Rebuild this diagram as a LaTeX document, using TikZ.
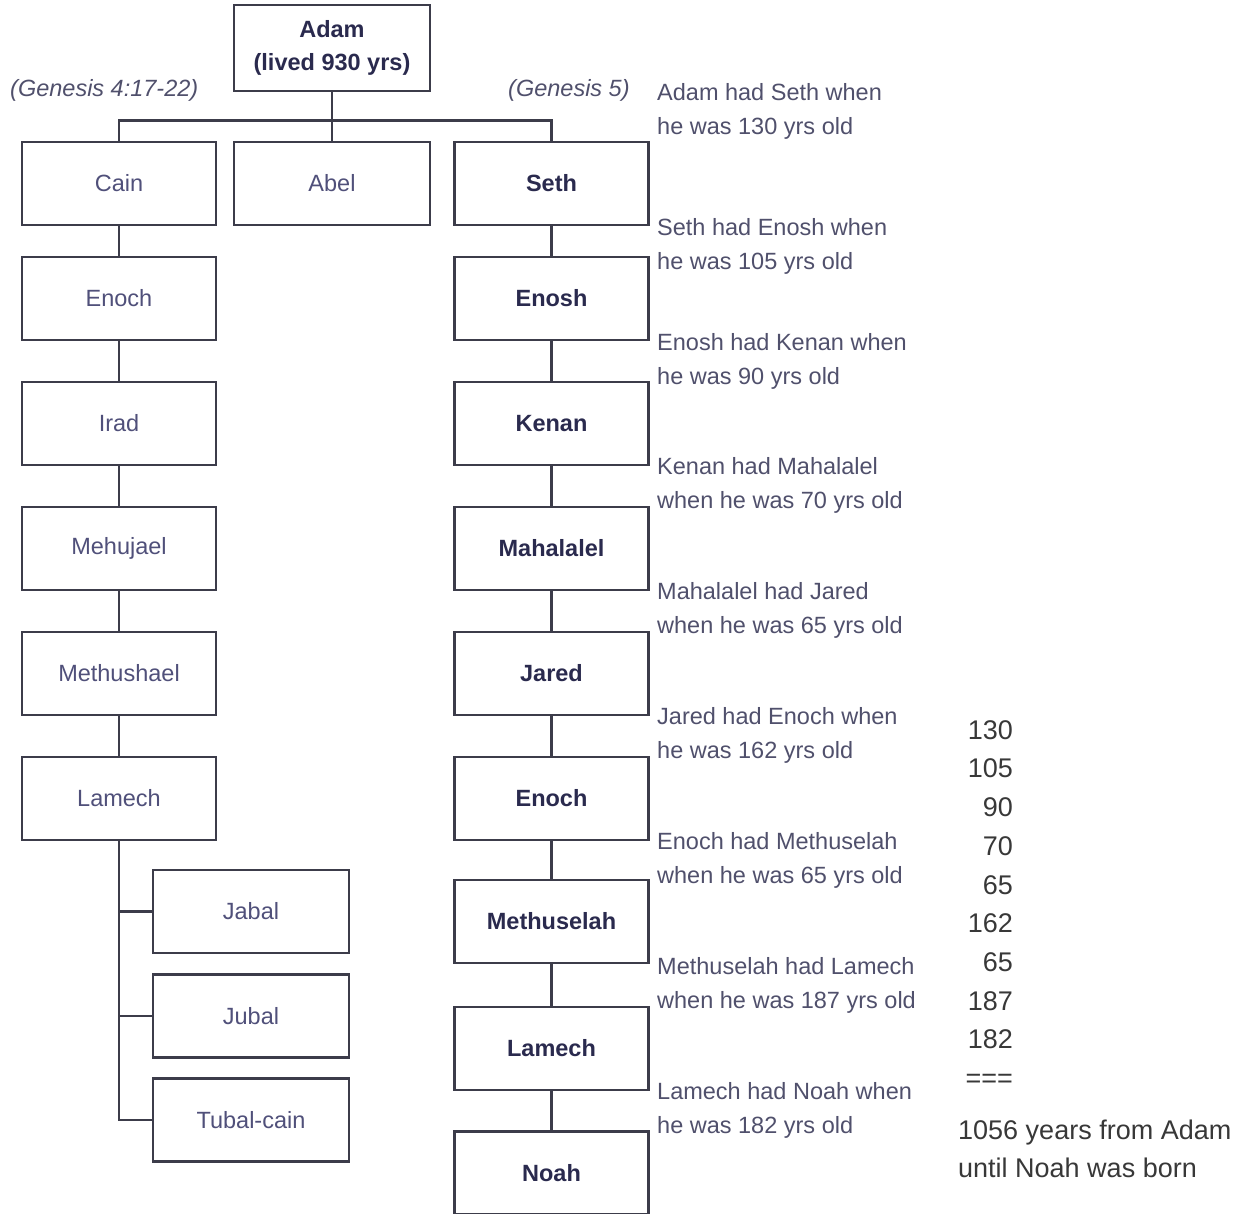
\documentclass[tikz,border=0pt]{standalone}
\usepackage{fontspec}
\setmainfont{Liberation Sans}
\definecolor{linec}{HTML}{3C3C4A}
\definecolor{lighttext}{HTML}{50507A}
\definecolor{darktext}{HTML}{2A2A4E}
\definecolor{sidetext}{HTML}{50506C}
\definecolor{numtext}{HTML}{383838}
\begin{document}
\begin{tikzpicture}[x=1pt,y=-1pt,
  person/.style={draw=linec,line width=2.8pt,fill=white,minimum width=194pt,minimum height=83pt,inner sep=0pt,font=\fontsize{23.5}{28}\selectfont,text=lighttext},
  bperson/.style={person,font=\fontsize{23.5}{28}\selectfont\bfseries,text=darktext},
  conn/.style={draw=linec,line width=2.8pt},
  note/.style={anchor=west,align=left,inner sep=0pt,font=\fontsize{23.5}{34}\selectfont,text=sidetext},
  gen/.style={anchor=west,inner sep=0pt,font=\fontsize{23.5}{28}\selectfont\itshape,text=sidetext}]
\useasboundingbox (0,0) rectangle (1250,1213);
\fill[white] (0,0) rectangle (1250,1213);
% Adam
\node[bperson,minimum width=196pt,minimum height=86pt,align=center] (adam) at (332,48) {Adam\\[5pt](lived 930 yrs)};
% first generation
\node[person] (cain) at (119,183.5) {Cain};
\node[person,minimum width=196pt] (abel) at (332,183.5) {Abel};
\node[bperson] (seth) at (551.5,183.5) {Seth};
% Cain line
\node[person] (lenoch) at (119,298.5) {Enoch};
\node[person] (irad) at (119,423.5) {Irad};
\node[person] (mehujael) at (119,548.5) {Mehujael};
\node[person] (methushael) at (119,673.5) {Methushael};
\node[person] (llamech) at (119,798.5) {Lamech};
\node[person,minimum width=196pt] (jabal) at (251,911.5) {Jabal};
\node[person,minimum width=196pt] (jubal) at (251,1016) {Jubal};
\node[person,minimum width=196pt] (tubal) at (251,1120) {Tubal-cain};
% Seth line
\node[bperson] (enosh) at (551.5,298.5) {Enosh};
\node[bperson] (kenan) at (551.5,423.5) {Kenan};
\node[bperson] (mahalalel) at (551.5,548.5) {Mahalalel};
\node[bperson] (jared) at (551.5,673.5) {Jared};
\node[bperson] (renoch) at (551.5,798.5) {Enoch};
\node[bperson] (methuselah) at (551.5,921.5) {Methuselah};
\node[bperson] (rlamech) at (551.5,1048.5) {Lamech};
\node[bperson] (noah) at (551.5,1173) {Noah};
% connectors
\draw[conn] (adam.south) -- (abel.north);
\draw[conn] (cain.north) -- ++(0,-20) -| (seth.north);
\draw[conn] (cain) -- (lenoch) -- (irad) -- (mehujael) -- (methushael) -- (llamech);
\draw[conn] (llamech.south) |- (tubal.west);
\draw[conn] (llamech.south |- jabal.west) -- (jabal.west);
\draw[conn] (llamech.south |- jubal.west) -- (jubal.west);
\draw[conn] (seth) -- (enosh) -- (kenan) -- (mahalalel) -- (jared) -- (renoch) -- (methuselah) -- (rlamech) -- (noah);
% genesis labels
\node[gen] (g4) at (10,90) {(Genesis 4:17-22)};
\node[gen] (g5) at (508,90) {(Genesis 5)};
% side notes
\node[note] (n1) at (657,111) {Adam had Seth when\\he was 130 yrs old};
\node[note] (n2) at (657,246) {Seth had Enosh when\\he was 105 yrs old};
\node[note] (n3) at (657,361) {Enosh had Kenan when\\he was 90 yrs old};
\node[note] (n4) at (657,485) {Kenan had Mahalalel\\when he was 70 yrs old};
\node[note] (n5) at (657,610) {Mahalalel had Jared\\when he was 65 yrs old};
\node[note] (n6) at (657,735) {Jared had Enoch when\\he was 162 yrs old};
\node[note] (n7) at (657,860) {Enoch had Methuselah\\when he was 65 yrs old};
\node[note] (n8) at (657,985) {Methuselah had Lamech\\when he was 187 yrs old};
\node[note] (n9) at (657,1110) {Lamech had Noah when\\he was 182 yrs old};
% sums
\node[anchor=east,align=right,inner sep=0pt,font=\fontsize{27}{38.7}\selectfont,text=numtext] (sum) at (1013,904)
  {130\\105\\90\\70\\65\\162\\65\\187\\182\\===};
\node[anchor=west,align=left,inner sep=0pt,font=\fontsize{27}{38}\selectfont,text=numtext] (total) at (958,1149)
  {1056 years from Adam\\until Noah was born};
\end{tikzpicture}
\end{document}
